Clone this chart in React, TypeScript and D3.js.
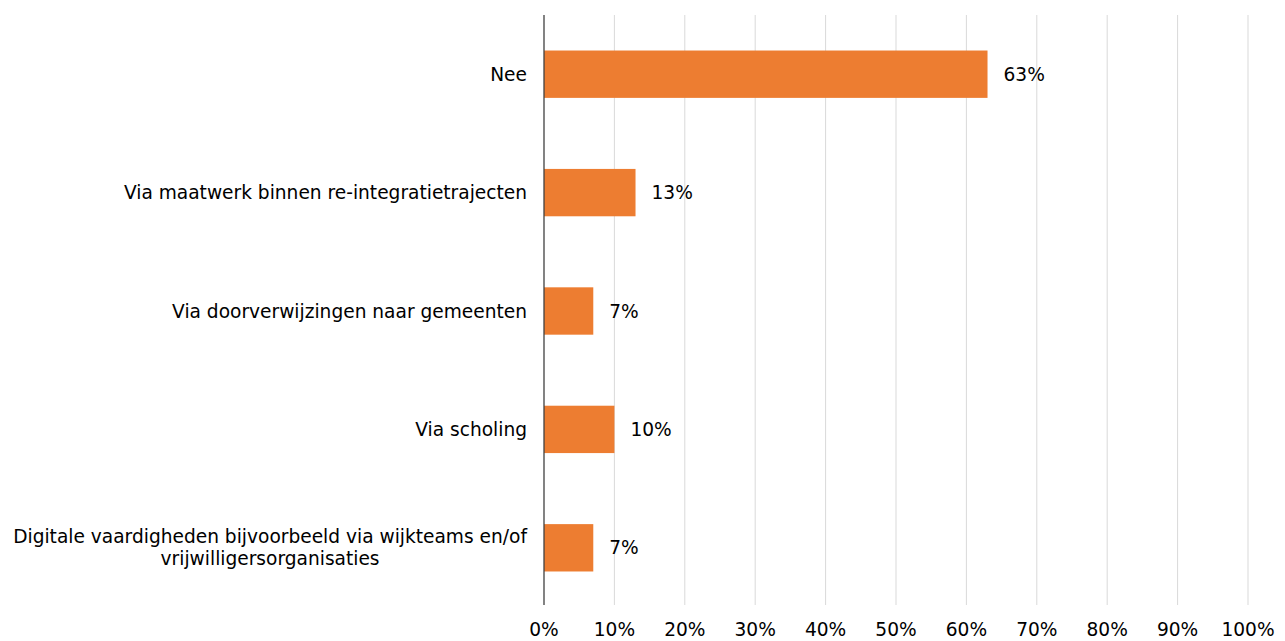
import React, { useEffect, useRef } from "react";
import * as d3 from "d3";

const categories: string[][] = [
  ["Nee"],
  ["Via maatwerk binnen re-integratietrajecten"],
  ["Via doorverwijzingen naar gemeenten"],
  ["Via scholing"],
  ["Digitale vaardigheden bijvoorbeeld via wijkteams en/of", "vrijwilligersorganisaties"],
];
const values: number[] = [0.63, 0.13, 0.07, 0.1, 0.07];
const ticks: number[] = [0, 0.1, 0.2, 0.3, 0.4, 0.5, 0.6, 0.7, 0.8, 0.9, 1.0];

const W = 1285;
const H = 641;
const FONT = "Verdana, 'DejaVu Sans', sans-serif";
const FS = 18.6;

export default function App() {
  const ref = useRef<SVGSVGElement | null>(null);
  useEffect(() => {
    const svg = d3.select(ref.current);
    svg.selectAll("*").remove();
    const left = 544, right = 1248, top = 15, bottom = 607;
    const x = d3.scaleLinear().domain([0, 1]).range([left, right]);
    const y = d3
      .scaleBand<number>()
      .domain(d3.range(categories.length))
      .range([top, bottom])
      .paddingInner(0.6)
      .paddingOuter(0.3);

    // gridlines
    svg
      .append("g")
      .selectAll("line")
      .data(ticks.filter((t) => t > 0))
      .join("line")
      .attr("x1", (d) => x(d))
      .attr("x2", (d) => x(d))
      .attr("y1", top)
      .attr("y2", 605)
      .attr("stroke", "#d9d9d9")
      .attr("stroke-width", 1);

    // tick labels
    svg
      .append("g")
      .selectAll("text")
      .data(ticks)
      .join("text")
      .attr("x", (d) => x(d))
      .attr("y", 636)
      .attr("text-anchor", "middle")
      .attr("font-family", FONT)
      .attr("font-size", FS)
      .attr("fill", "#000")
      .text((d) => d3.format(".0%")(d));

    // bars
    svg
      .append("g")
      .selectAll("rect")
      .data(values)
      .join("rect")
      .attr("x", x(0))
      .attr("y", (_, i) => y(i)!)
      .attr("width", (d) => x(d) - x(0))
      .attr("height", y.bandwidth())
      .attr("fill", "#ed7d31");

    // value labels
    svg
      .append("g")
      .selectAll("text")
      .data(values)
      .join("text")
      .attr("x", (d) => x(d) + 16)
      .attr("y", (_, i) => y(i)! + y.bandwidth() / 2)
      .attr("dy", "0.35em")
      .attr("font-family", FONT)
      .attr("font-size", FS)
      .attr("fill", "#000")
      .text((d) => d3.format(".0%")(d));

    // category labels
    const labelX = left - 17;
    const lineH = 22;
    categories.forEach((lines, i) => {
      const cy = y(i)! + y.bandwidth() / 2;
      const n = lines.length;
      const g = svg.append("g");
      const first = g
        .append("text")
        .attr("x", labelX)
        .attr("y", cy - ((n - 1) * lineH) / 2)
        .attr("dy", "0.35em")
        .attr("text-anchor", "end")
        .attr("font-family", FONT)
        .attr("font-size", FS)
        .attr("fill", "#000")
        .text(lines[0]);
      if (n > 1) {
        const w = (first.node() as SVGTextElement).getComputedTextLength();
        const center = labelX - w / 2;
        for (let k = 1; k < n; k++) {
          g.append("text")
            .attr("x", center)
            .attr("y", cy - ((n - 1) * lineH) / 2 + k * lineH)
            .attr("dy", "0.35em")
            .attr("text-anchor", "middle")
            .attr("font-family", FONT)
            .attr("font-size", FS)
            .attr("fill", "#000")
            .text(lines[k]);
        }
      }
    });

    // axis line
    svg
      .append("line")
      .attr("x1", x(0))
      .attr("x2", x(0))
      .attr("y1", top)
      .attr("y2", 605)
      .attr("stroke", "#404040")
      .attr("stroke-width", 1.3);
  }, []);

  return (
    <svg
      ref={ref}
      width={W}
      height={H}
      style={{ position: "absolute", left: 0, top: 0, background: "#fff" }}
    />
  );
}
